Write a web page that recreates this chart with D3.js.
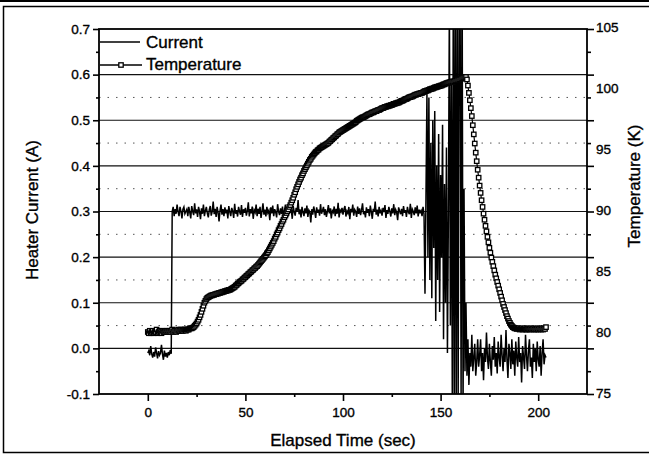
<!DOCTYPE html>
<html>
<head>
<meta charset="utf-8">
<script src="https://cdn.jsdelivr.net/npm/d3@7"></script>
<style>
  body { margin: 0; background: #fff; }
  svg text { font-family: "Liberation Sans", Arial, sans-serif; fill: #000; stroke: #000; stroke-width: 0.35px; }
</style>
</head>
<body>
<div id="chart"></div>
<script>
// sample spacing of the logger (seconds)
const timeStep = 0.5;

// heater current (A), one value every 0.5 s from t = 0
const currentA = [
  -0.01, -0.005, -0.015, 0.005, -0.012, -0.02, -0.008, -0.018, 0.002, -0.01, -0.022, -0.006, -0.015, -0.01, 0.008, -0.012, -0.025, -0.005, -0.018, -0.01,
  -0.02, -0.008, -0.015, -0.004, -0.012, 0.30, 0.31, 0.29, 0.305, 0.295, 0.315, 0.30, 0.29, 0.31, 0.30, 0.285, 0.305, 0.31, 0.295, 0.30,
  0.305, 0.29, 0.31, 0.298, 0.285, 0.312, 0.30, 0.292, 0.318, 0.296, 0.305, 0.288, 0.31, 0.30, 0.283, 0.307, 0.295, 0.315, 0.29, 0.302,
  0.31, 0.296, 0.287, 0.304, 0.312, 0.291, 0.30, 0.322, 0.294, 0.306, 0.288, 0.31, 0.298, 0.278, 0.302, 0.315, 0.293, 0.305, 0.29, 0.309,
  0.296, 0.304, 0.285, 0.312, 0.299, 0.29, 0.308, 0.301, 0.286, 0.317, 0.295, 0.303, 0.289, 0.31, 0.3, 0.293, 0.314, 0.288, 0.305, 0.297,
  0.308, 0.291, 0.302, 0.32, 0.289, 0.305, 0.296, 0.311, 0.284, 0.303, 0.298, 0.315, 0.29, 0.306, 0.295, 0.31, 0.286, 0.301, 0.318, 0.293,
  0.304, 0.289, 0.31, 0.297, 0.302, 0.281, 0.309, 0.296, 0.313, 0.29, 0.305, 0.299, 0.287, 0.316, 0.3, 0.292, 0.307, 0.295, 0.311, 0.288,
  0.302, 0.315, 0.293, 0.306, 0.289, 0.31, 0.297, 0.304, 0.284, 0.312, 0.299, 0.291, 0.308, 0.3, 0.325, 0.294, 0.305, 0.287, 0.31, 0.298,
  0.29, 0.307, 0.296, 0.313, 0.288, 0.303, 0.299, 0.276, 0.305, 0.293, 0.311, 0.3, 0.286, 0.309, 0.297, 0.304, 0.291, 0.316, 0.295, 0.302,
  0.31, 0.292, 0.305, 0.288, 0.3, 0.314, 0.296, 0.307, 0.285, 0.302, 0.298, 0.311, 0.29, 0.306, 0.295, 0.319, 0.287, 0.303, 0.299, 0.308,
  0.293, 0.305, 0.312, 0.289, 0.301, 0.296, 0.31, 0.283, 0.306, 0.298, 0.315, 0.291, 0.304, 0.3, 0.288, 0.311, 0.295, 0.307, 0.292, 0.303,
  0.318, 0.294, 0.301, 0.287, 0.309, 0.297, 0.305, 0.29, 0.313, 0.299, 0.284, 0.306, 0.3, 0.322, 0.293, 0.304, 0.289, 0.31, 0.296, 0.302,
  0.291, 0.308, 0.299, 0.314, 0.286, 0.303, 0.295, 0.31, 0.3, 0.289, 0.307, 0.296, 0.316, 0.292, 0.304, 0.298, 0.281, 0.309, 0.301, 0.294,
  0.306, 0.29, 0.312, 0.297, 0.303, 0.288, 0.31, 0.299, 0.294, 0.317, 0.286, 0.305, 0.3, 0.292, 0.309, 0.296, 0.313, 0.289, 0.304, 0.298,
  0.302, 0.29, 0.31, 0.295, 0.12, 0.33, 0.56, 0.2, 0.55, 0.15, 0.45, 0.11, 0.5, 0.22, 0.52, 0.06, 0.4, 0.15, 0.47, 0.08,
  0.38, 0.2, 0.49, 0.02, 0.36, 0.1, 0.44, -0.01, 0.3, 0.76, 0.05, 0.58, -0.12, 0.8, -0.15, 0.85, -0.14, 0.78, -0.13, 0.82,
  0.76, -0.11, 0.9, -0.13, 0.35, -0.05, 0.1, -0.06, 0.02, -0.08, -0.01, -0.04, 0.03, -0.05, -0.02, 0.01, -0.06, -0.03, 0.02, -0.04,
  -0.015, 0.02, -0.05, -0.01, -0.07, 0.0, -0.03, 0.035, -0.02, -0.045, 0.01, -0.03, -0.06, 0.005, -0.025, 0.025, -0.04, -0.01, -0.055, 0.015,
  -0.02, -0.04, 0.03, -0.015, -0.05, 0.0, -0.03, 0.04, -0.025, -0.065, 0.01, -0.01, -0.045, 0.02, -0.035, -0.005, -0.06, 0.015, -0.02, -0.04,
  0.025, -0.03, -0.01, -0.075, 0.005, -0.02, -0.045, 0.03, -0.015, -0.05, -0.005, 0.02, -0.04, -0.02, -0.065, 0.01, -0.03, 0.0, -0.05, 0.015,
  -0.025, -0.04, 0.005, -0.06, -0.01, 0.02, -0.035, -0.015, -0.02
];

// temperature (K), same sampling
const temperatureK = [
  80.0, 79.9, 80.1, 79.9, 80.0, 80.1, 79.9, 80.0, 80.0, 80.2, 79.9, 80.0, 80.1, 80.0, 79.9, 80.1, 80.0, 80.0, 80.1, 80.0,
  80.1, 80.0, 80.1, 80.0, 80.1, 80.2, 80.0, 80.1, 80.1, 80.0, 80.1, 80.2, 80.1, 80.1, 80.2, 80.1, 80.1, 80.2, 80.2, 80.1,
  80.2, 80.2, 80.2, 80.3, 80.3, 80.3, 80.35, 80.4, 80.5, 80.6, 80.7, 80.85, 81.0, 81.2, 81.4, 81.65, 81.9, 82.15, 82.4, 82.55,
  82.7, 82.8, 82.85, 82.9, 82.95, 83.0, 83.0, 83.05, 83.05, 83.1, 83.1, 83.15, 83.15, 83.2, 83.2, 83.25, 83.25, 83.3, 83.3, 83.35,
  83.35, 83.4, 83.4, 83.45, 83.45, 83.5, 83.55, 83.6, 83.65, 83.7, 83.8, 83.85, 83.95, 84.0, 84.1, 84.15, 84.2, 84.3, 84.35, 84.45,
  84.5, 84.6, 84.65, 84.75, 84.8, 84.9, 84.95, 85.05, 85.1, 85.2, 85.25, 85.35, 85.4, 85.5, 85.6, 85.7, 85.8, 85.9, 86.0, 86.1,
  86.2, 86.3, 86.45, 86.55, 86.7, 86.85, 87.0, 87.15, 87.3, 87.45, 87.65, 87.8, 88.0, 88.15, 88.35, 88.5, 88.7, 88.85, 89.05, 89.2,
  89.4, 89.55, 89.75, 89.9, 90.05, 90.25, 90.4, 90.6, 90.8, 91.0, 91.25, 91.45, 91.7, 91.9, 92.1, 92.3, 92.5, 92.65, 92.85, 93.0,
  93.2, 93.35, 93.5, 93.65, 93.8, 93.95, 94.1, 94.2, 94.35, 94.45, 94.55, 94.65, 94.75, 94.8, 94.9, 94.95, 95.05, 95.1, 95.15, 95.2,
  95.25, 95.3, 95.35, 95.4, 95.45, 95.5, 95.6, 95.65, 95.75, 95.8, 95.9, 95.95, 96.05, 96.1, 96.2, 96.25, 96.35, 96.4, 96.45, 96.5,
  96.55, 96.6, 96.65, 96.7, 96.75, 96.8, 96.85, 96.9, 96.95, 97.0, 97.05, 97.1, 97.15, 97.2, 97.3, 97.35, 97.4, 97.45, 97.5, 97.55,
  97.6, 97.6, 97.65, 97.7, 97.75, 97.8, 97.85, 97.85, 97.9, 97.95, 98.0, 98.0, 98.05, 98.1, 98.1, 98.15, 98.2, 98.2, 98.25, 98.3,
  98.35, 98.35, 98.4, 98.45, 98.45, 98.5, 98.5, 98.55, 98.55, 98.6, 98.6, 98.65, 98.7, 98.7, 98.75, 98.75, 98.8, 98.8, 98.85, 98.9,
  98.95, 98.95, 99.0, 99.05, 99.1, 99.1, 99.15, 99.2, 99.25, 99.25, 99.3, 99.3, 99.35, 99.4, 99.45, 99.45, 99.5, 99.5, 99.55, 99.55,
  99.6, 99.6, 99.65, 99.7, 99.75, 99.75, 99.8, 99.8, 99.85, 99.9, 99.9, 99.95, 99.95, 100.0, 100.05, 100.05, 100.1, 100.1, 100.15, 100.15,
  100.2, 100.2, 100.25, 100.3, 100.3, 100.35, 100.4, 100.4, 100.45, 100.45, 100.5, 100.5, 100.55, 100.5, 100.55, 100.6, 100.6, 100.65, 100.65, 100.7,
  100.7, 100.75, 100.8, 100.85, 100.85, 100.9, 100.9, 100.7, 100.2, 99.6, 99.0, 98.35, 97.7, 96.95, 96.2, 95.45, 94.7, 94.0, 93.3, 92.65,
  92.0, 91.4, 90.8, 90.25, 89.7, 89.2, 88.7, 88.25, 87.8, 87.35, 86.9, 86.5, 86.1, 85.75, 85.4, 85.05, 84.7, 84.4, 84.1, 83.8,
  83.5, 83.2, 82.9, 82.6, 82.3, 82.05, 81.8, 81.55, 81.3, 81.1, 80.9, 80.75, 80.6, 80.5, 80.4, 80.35, 80.3, 80.3, 80.25, 80.3,
  80.3, 80.2, 80.25, 80.3, 80.2, 80.25, 80.3, 80.2, 80.2, 80.3, 80.25, 80.2, 80.3, 80.2, 80.25, 80.3, 80.2, 80.25, 80.2, 80.3,
  80.2, 80.3, 80.25, 80.2, 80.3, 80.2, 80.3, 80.25, 80.4
];

// axis ticks
const currentTicks = [-0.1, 0.0, 0.1, 0.2, 0.3, 0.4, 0.5, 0.6, 0.7];
const currentMinorTicks = [-0.05, 0.05, 0.15, 0.25, 0.35, 0.45, 0.55, 0.65];
const gridDotted = [0.05, 0.15, 0.25, 0.35, 0.45, 0.55];
const tempTicks = [75, 80, 85, 90, 95, 100, 105];
const timeTicks = [0, 50, 100, 150, 200];
const timeMinorTicks = [25, 75, 125, 175];
const seriesNames = ["Current", "Temperature"];

function drawChart() {
  const width = 649;
  const height = 454;
  const plot = { left: 99, right: 587, top: 29, bottom: 394 };

  const svg = d3.select("#chart")
    .append("svg")
    .attr("width", width)
    .attr("height", height);

  // page frame from the scan
  svg.append("line").attr("x1", 0).attr("x2", width).attr("y1", 1).attr("y2", 1)
    .attr("stroke", "#000").attr("stroke-width", 2);
  svg.append("path")
    .attr("d", `M${width},6.5H3.5V452.5H${width}`)
    .attr("fill", "none").attr("stroke", "#000").attr("stroke-width", 1.5);

  const x = d3.scaleLinear().domain([-25, 225]).range([plot.left, plot.right]);
  const yL = d3.scaleLinear().domain([-0.1, 0.7]).range([plot.bottom, plot.top]);
  const yR = d3.scaleLinear().domain([75, 105]).range([393, 27]);

  const currentData = currentA.map((v, i) => ({ t: i * timeStep, v: v }));
  const tempData = temperatureK.map((v, i) => ({ t: i * timeStep, v: v }));

  svg.append("defs").append("clipPath").attr("id", "plotClip")
    .append("rect")
    .attr("x", plot.left).attr("y", plot.top)
    .attr("width", plot.right - plot.left).attr("height", plot.bottom - plot.top);

  // grid: solid at major, dotted at minor
  const grid = svg.append("g");
  grid.selectAll("line.major")
    .data(currentTicks.filter(d => d > -0.1 && d < 0.7))
    .enter().append("line")
    .attr("class", "major")
    .attr("x1", plot.left).attr("x2", plot.right)
    .attr("y1", d => yL(d)).attr("y2", d => yL(d))
    .attr("stroke", "#111").attr("stroke-width", 1.2);
  grid.selectAll("line.minor")
    .data(gridDotted)
    .enter().append("line")
    .attr("class", "minor")
    .attr("x1", plot.left).attr("x2", plot.right)
    .attr("y1", d => yL(d)).attr("y2", d => yL(d))
    .attr("stroke", "#555").attr("stroke-width", 1)
    .attr("stroke-dasharray", "1.5,7");

  // current trace
  const currentLine = d3.line().x(d => x(d.t)).y(d => yL(d.v));
  svg.append("path")
    .datum(currentData)
    .attr("clip-path", "url(#plotClip)")
    .attr("fill", "none")
    .attr("stroke", "#000")
    .attr("stroke-width", 1.5)
    .attr("d", currentLine);

  // temperature trace with open squares
  const tempLine = d3.line().x(d => x(d.t)).y(d => yR(d.v));
  svg.append("path")
    .datum(tempData)
    .attr("fill", "none")
    .attr("stroke", "#000")
    .attr("stroke-width", 1.2)
    .attr("d", tempLine);

  const sq = 4.4;
  svg.append("g").selectAll("rect")
    .data(tempData)
    .enter().append("rect")
    .attr("x", d => x(d.t) - sq / 2)
    .attr("y", d => yR(d.v) - sq / 2)
    .attr("width", sq).attr("height", sq)
    .attr("fill", "#fff")
    .attr("stroke", "#000")
    .attr("stroke-width", 1.3);

  // frame of the plot
  svg.append("rect")
    .attr("x", plot.left).attr("y", plot.top)
    .attr("width", plot.right - plot.left).attr("height", plot.bottom - plot.top)
    .attr("fill", "none").attr("stroke", "#000").attr("stroke-width", 1.8);

  const fmt1 = d => d.toFixed(1);

  // left axis
  const leftAxis = svg.append("g").attr("transform", `translate(${plot.left},0)`);
  leftAxis.call(d3.axisLeft(yL).tickValues(currentTicks).tickFormat(fmt1).tickSize(6).tickPadding(3));
  leftAxis.append("g").call(d3.axisLeft(yL).tickValues(currentMinorTicks).tickFormat("").tickSize(3));

  // right axis: tick marks follow the left scale, labels follow temperature
  const rightAxis = svg.append("g").attr("transform", `translate(${plot.right},0)`);
  rightAxis.call(d3.axisRight(yL).tickValues(currentTicks).tickFormat("").tickSize(7));
  rightAxis.append("g").call(d3.axisRight(yL).tickValues(currentMinorTicks).tickFormat("").tickSize(4));
  rightAxis.append("g").call(d3.axisRight(yR).tickValues(tempTicks).tickSize(0).tickPadding(9));

  // bottom axis
  const bottomAxis = svg.append("g").attr("transform", `translate(0,${plot.bottom})`);
  bottomAxis.call(d3.axisBottom(x).tickValues(timeTicks).tickSize(7).tickPadding(6));
  bottomAxis.append("g").call(d3.axisBottom(x).tickValues(timeMinorTicks).tickFormat("").tickSize(3));

  svg.selectAll(".domain").remove();
  svg.selectAll(".tick line").attr("stroke", "#000").attr("stroke-width", 1.6);
  svg.selectAll(".tick text")
    .style("font-family", "'Liberation Sans', Arial, sans-serif")
    .style("font-size", "13.5px")
    .attr("fill", "#000");

  // axis titles
  svg.append("text")
    .attr("x", (plot.left + plot.right) / 2)
    .attr("y", 446)
    .attr("text-anchor", "middle")
    .style("font-size", "17px")
    .text("Elapsed Time (sec)");
  svg.append("text")
    .attr("transform", "translate(38,210) rotate(-90)")
    .attr("text-anchor", "middle")
    .style("font-size", "17px")
    .text("Heater Current (A)");
  svg.append("text")
    .attr("transform", "translate(640,186) rotate(-90)")
    .attr("text-anchor", "middle")
    .style("font-size", "17px")
    .text("Temperature (K)");

  // legend
  const legend = svg.append("g");
  legend.append("line")
    .attr("x1", 100).attr("x2", 140).attr("y1", 42).attr("y2", 42)
    .attr("stroke", "#000").attr("stroke-width", 1.4);
  legend.append("text").attr("x", 146).attr("y", 48).style("font-size", "17px").text(seriesNames[0]);
  legend.append("line")
    .attr("x1", 100).attr("x2", 142).attr("y1", 65).attr("y2", 65)
    .attr("stroke", "#000").attr("stroke-width", 1.4);
  legend.append("rect")
    .attr("x", 121 - sq / 2).attr("y", 65 - sq / 2).attr("width", sq).attr("height", sq)
    .attr("fill", "#fff").attr("stroke", "#000").attr("stroke-width", 1.3);
  legend.append("text").attr("x", 146).attr("y", 70).style("font-size", "17px").text(seriesNames[1]);
}

drawChart();
</script>
</body>
</html>
